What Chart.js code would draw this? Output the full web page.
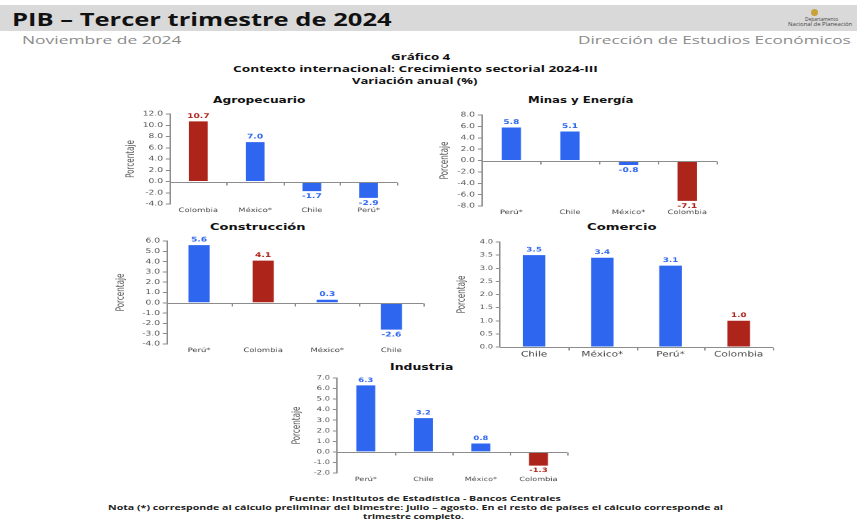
<!DOCTYPE html>
<html>
<head>
<meta charset="utf-8">
<script src="https://cdn.jsdelivr.net/npm/chart.js@4.4.1/dist/chart.umd.min.js"></script>
<style>
  body { margin: 0; width: 863px; height: 520px; background: #fff; overflow: hidden; position: relative; }
  .t { position: absolute; white-space: nowrap; transform-origin: 0 50%; line-height: 1.15; }
  .box { position: absolute; transform-origin: 0 0; }
</style>
</head>
<body>
<div style="position:absolute;left:0;top:5px;width:857px;height:26px;background:#d9d9d9"></div>
<div style="position:absolute;left:811px;top:9px;width:7px;height:7px;border-radius:50%;background:#c9a33a"></div>

<script>
// data
const agroCats = ['Colombia', 'México*', 'Chile', 'Perú*'];
const agroVals = [10.7, 7.0, -1.7, -2.9];

const minasCats = ['Perú*', 'Chile', 'México*', 'Colombia'];
const minasVals = [5.8, 5.1, -0.8, -7.1];

const construCats = ['Perú*', 'Colombia', 'México*', 'Chile'];
const construVals = [5.6, 4.1, 0.3, -2.6];

const comercioCats = ['Chile', 'México*', 'Perú*', 'Colombia'];
const comercioVals = [3.5, 3.4, 3.1, 1.0];

const industriaCats = ['Perú*', 'Chile', 'México*', 'Colombia'];
const industriaVals = [6.3, 3.2, 0.8, -1.3];

const BLUE = '#2f66ef';
const RED = '#ad241b';
const SX = 1.4;   // the source picture is stretched sideways

Chart.defaults.font.family = "'DejaVu Sans', sans-serif";

// html text, squeezed/stretched to the width it has in the picture
function putText(txt, x, cy, w, font, color, align) {
  const el = document.createElement('div');
  el.className = 't';
  el.textContent = txt;
  el.style.font = font;
  el.style.lineHeight = '1.15';
  el.style.color = color;
  document.body.appendChild(el);
  const bw = el.offsetWidth, bh = el.offsetHeight;
  let left = x - w / 2;
  if (align === 'left') left = x;
  if (align === 'right') left = x - w;
  el.style.left = left + 'px';
  el.style.top = (cy - bh / 2) + 'px';
  el.style.transform = 'scaleX(' + (w / bw) + ')';
}

// axis line through zero with small marks between categories
const zeroLine = {
  id: 'zeroLine',
  afterDatasetsDraw(chart) {
    const { ctx, chartArea: a, scales: { x, y } } = chart;
    const y0 = Math.round(y.getPixelForValue(0)) + 0.5;
    ctx.save();
    ctx.strokeStyle = '#8c8c8c';
    ctx.lineWidth = 1;
    ctx.beginPath();
    ctx.moveTo(a.left, y0);
    ctx.lineTo(a.right, y0);
    for (let i = 1; i <= chart.data.labels.length; i++) {
      const px = Math.round(x.getPixelForValue(i - 0.5)) + 0.5;
      ctx.moveTo(px, y0);
      ctx.lineTo(px, y0 + 3);
    }
    ctx.stroke();
    ctx.restore();
  }
};

// value labels above / below the bars
const barLabels = {
  id: 'barLabels',
  afterDatasetsDraw(chart, args, opts) {
    const { ctx } = chart;
    const vals = chart.data.datasets[0].data;
    ctx.save();
    ctx.font = 'bold ' + opts.size + "px 'DejaVu Sans'";
    ctx.textAlign = 'center';
    chart.getDatasetMeta(0).data.forEach((bar, i) => {
      const v = vals[i];
      ctx.fillStyle = opts.colors[i];
      if (v >= 0) {
        ctx.textBaseline = 'bottom';
        ctx.fillText(v.toFixed(1), bar.x, bar.y - 2);
      } else {
        ctx.textBaseline = 'top';
        ctx.fillText(v.toFixed(1), bar.x, bar.y + 2);
      }
    });
    ctx.restore();
  }
};

function makeChart(cats, vals, o) {
  const padTop = 8, xH = 12;
  const wrap = document.createElement('div');
  wrap.className = 'box';
  wrap.style.left = o.cl + 'px';
  wrap.style.top = (o.at - padTop) + 'px';
  wrap.style.transform = 'scaleX(' + SX + ')';
  const cv = document.createElement('canvas');
  cv.width = Math.round((o.ar - o.cl) / SX + 3);
  cv.height = Math.round(o.ab - o.at + padTop + xH);
  wrap.appendChild(cv);
  document.body.appendChild(wrap);

  const colors = cats.map(c => c === 'Colombia' ? RED : BLUE);
  const yW = (o.al - o.cl) / SX;

  new Chart(cv, {
    type: 'bar',
    data: {
      labels: cats,
      datasets: [{
        data: vals,
        backgroundColor: colors,
        barPercentage: 0.33,
        categoryPercentage: 1.0
      }]
    },
    options: {
      responsive: false,
      animation: false,
      devicePixelRatio: 2,
      layout: { padding: { top: padTop, right: 3, bottom: 0, left: 0 } },
      plugins: {
        legend: { display: false },
        tooltip: { enabled: false },
        barLabels: { size: o.labSize, colors: colors }
      },
      scales: {
        x: {
          grid: { display: false, drawTicks: false },
          border: { display: false },
          ticks: { font: { size: o.catSize }, color: '#444', padding: 3, maxRotation: 0, autoSkip: false },
          afterFit: s => { s.height = xH; }
        },
        y: {
          min: o.min, max: o.max,
          grid: { drawOnChartArea: false, drawTicks: true, tickLength: 3, color: '#8c8c8c' },
          border: { display: true, color: '#8c8c8c' },
          ticks: { stepSize: o.step, autoSkip: false, font: { size: o.tickSize }, color: '#555', padding: 2,
                   callback: v => v.toFixed(1) },
          title: { display: true, text: 'Porcentaje', color: '#555', padding: 0,
                   font: { family: "'Liberation Sans Narrow', 'DejaVu Sans Condensed', sans-serif", size: 8 } },
          afterFit: s => { s.width = yW; }
        }
      }
    },
    plugins: [zeroLine, barLabels]
  });
}

// header
putText('PIB – Tercer trimestre de 2024', 12, 20, 380, "bold 17px 'Open Sans'", '#111', 'left');
putText('Noviembre de 2024', 22, 40, 160, "11px 'Open Sans'", '#8a8a8a', 'left');
putText('Dirección de Estudios Económicos', 850, 40, 272, "11px 'Open Sans'", '#8a8a8a', 'right');
putText('Departamento', 821, 20, 33, "5px 'Open Sans'", '#444');
putText('Nacional de Planeación', 820, 25, 64, "5px 'Open Sans'", '#444');

putText('Gráfico 4', 420, 57, 59, "bold 9.5px 'Open Sans'", '#111');
putText('Contexto internacional: Crecimiento sectorial 2024-III', 415, 69, 365, "bold 9.5px 'Open Sans'", '#111');
putText('Variación anual (%)', 415, 81, 126, "bold 9.5px 'Open Sans'", '#111');

// panel titles
const tFont = "bold 8.5px 'DejaVu Sans'";
putText('Agropecuario', 259, 101, 92, tFont, '#111');
putText('Minas y Energía', 580, 101, 105, tFont, '#111');
putText('Construcción', 257, 228, 95, tFont, '#111');
putText('Comercio', 622, 228, 70, tFont, '#111');
putText('Industria', 421, 368, 63, tFont, '#111');

makeChart(agroCats, agroVals, { cl: 124, al: 170, ar: 397, at: 114, ab: 204, min: -4, max: 12, step: 2, tickSize: 6.5, catSize: 6, labSize: 6.5 });
makeChart(minasCats, minasVals, { cl: 438, al: 482, ar: 717, at: 115, ab: 206, min: -8, max: 8, step: 2, tickSize: 6.5, catSize: 6, labSize: 6.5 });
makeChart(construCats, construVals, { cl: 114, al: 167, ar: 423, at: 241, ab: 344, min: -4, max: 6, step: 1, tickSize: 6.5, catSize: 6, labSize: 6.5 });
makeChart(comercioCats, comercioVals, { cl: 455, al: 500, ar: 773, at: 242, ab: 347, min: 0, max: 4, step: 0.5, tickSize: 6, catSize: 7.5, labSize: 6.3 });
makeChart(industriaCats, industriaVals, { cl: 290, al: 337, ar: 567, at: 378, ab: 473, min: -2, max: 7, step: 1, tickSize: 6, catSize: 5.8, labSize: 6 });

// footer
const fFont = "bold 7.5px 'Open Sans'";
putText('Fuente: Institutos de Estadística - Bancos Centrales', 425, 498, 272, fFont, '#222');
putText('Nota (*) corresponde al cálculo preliminar del bimestre: julio – agosto. En el resto de países el cálculo corresponde al', 415, 507.5, 615, fFont, '#222');
putText('trimestre completo.', 413, 516, 101, fFont, '#222');
</script>
</body>
</html>
